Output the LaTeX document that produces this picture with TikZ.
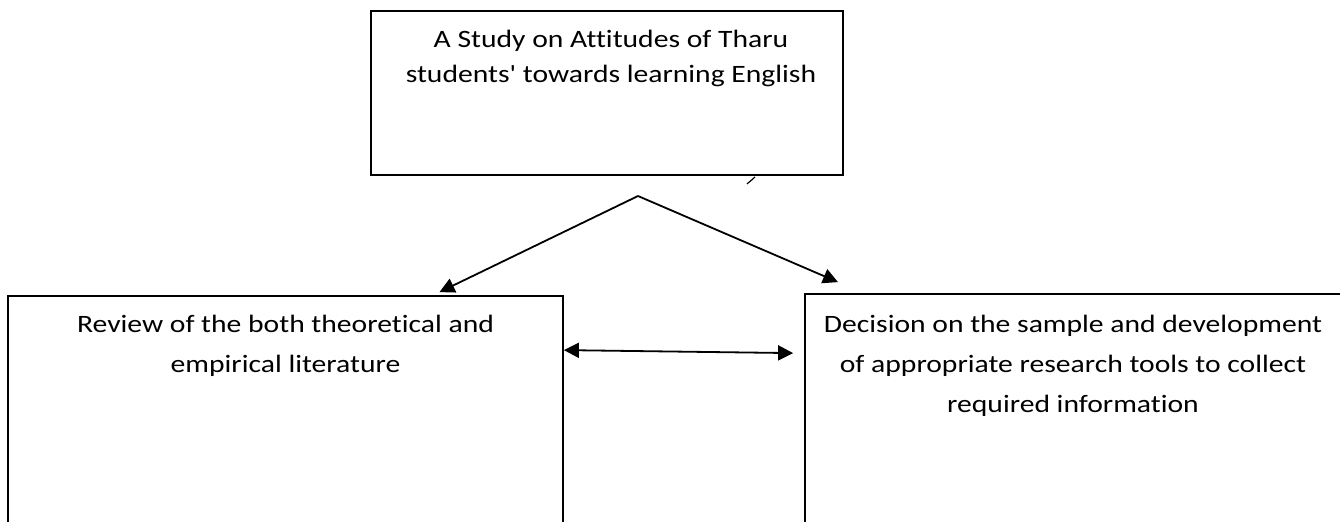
\documentclass[tikz,border=0pt]{standalone}
\usepackage{fontspec}
\setmainfont{Carlito}[FakeStretch=1.185, Ligatures={TeXOff,NoCommon}]
\usetikzlibrary{arrows.meta,calc,positioning}

\tikzset{
  stagebox/.style={draw, line width=0.9pt, inner sep=0pt},
  stagetext/.style={align=center, inner sep=0pt, anchor=north},
  flow/.style={line width=0.9pt, -{Triangle[length=7.5pt,width=7.5pt]}},
  twoway/.style={line width=0.9pt, {Triangle[length=7.5pt,width=7.5pt]}-{Triangle[length=7.5pt,width=7.5pt]}}
}

\begin{document}
\begin{tikzpicture}[x=0.5pt,y=-0.5pt]
  \useasboundingbox (0,0) rectangle (1340,521);
  \clip (0,0) rectangle (1340,521);

  % Drawing box topic
  \node[stagebox, minimum width=236pt, minimum height=82pt] (topic) at (607,93) {};%
  \node[stagetext, font=\fontsize{12.5}{17.5}\selectfont] (topictext) at ([xshift=2pt,yshift=-9.8pt]topic.north)
    {A Study on Attitudes of Tharu\\students' towards learning English};%

  % Drawing box review
  \node[stagebox, minimum width=277.5pt, minimum height=122pt] (review) at (285.5,418) {};%
  \node[stagetext, font=\fontsize{12.5}{20}\selectfont] (reviewtext) at ([yshift=-9.8pt]review.north)
    {Review of the both theoretical and\\empirical literature};%

  % Drawing box decision
  \node[stagebox, minimum width=268pt, minimum height=123pt] (decision) at (1073,417) {};%
  \node[stagetext, font=\fontsize{12.5}{20}\selectfont] (decisiontext) at ([yshift=-10.8pt]decision.north)
    {Decision on the sample and development\\of appropriate research tools to collect\\required information};%

  % Drawing split below topic
  \coordinate (apex) at (638,196);
  \draw[flow] (apex) -- ([xshift=77pt,yshift=1.5pt]review.north);%
  \draw[flow] (apex) -- ([xshift=-117.5pt,yshift=5.5pt]decision.north);%

  % Drawing line review decision
  \draw[twoway] ([yshift=-27.5pt]review.north east) -- ([xshift=-5.5pt,yshift=-30pt]decision.north west);%

  % Drawing tick under topic
  \draw[line width=0.6pt] ([xshift=70pt,yshift=-4pt]topic.south) .. controls ([xshift=73pt,yshift=-1.5pt]topic.south) .. ([xshift=74pt,yshift=-0.5pt]topic.south);%
\end{tikzpicture}
\end{document}
